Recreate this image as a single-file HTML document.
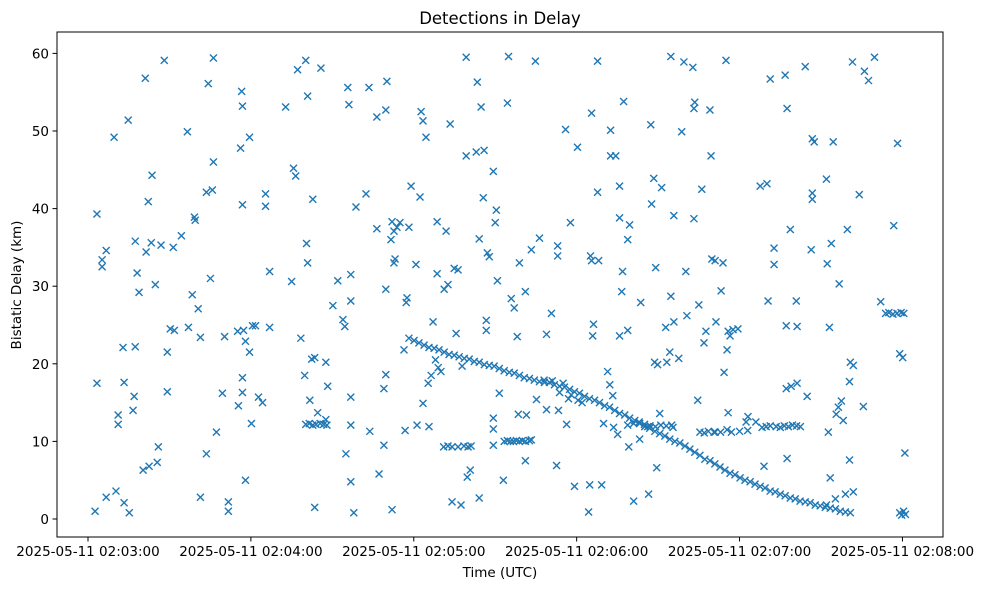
<!DOCTYPE html>
<html><head><meta charset="utf-8"><style>
body{margin:0;background:#fff;}
svg{display:block;font-family:"DejaVu Sans","Liberation Sans",sans-serif;}
</style></head><body>
<svg id="chart" width="984" height="590" viewBox="0 0 984 590">
<rect x="0" y="0" width="984" height="590" fill="#fff"/>
<text x="500" y="24" font-size="16.5" text-anchor="middle" fill="#000">Detections in Delay</text>
<text x="500" y="577" font-size="13.5" text-anchor="middle" fill="#000">Time (UTC)</text>
<text x="21" y="285" font-size="13.5" text-anchor="middle" fill="#000" transform="rotate(-90 21 285)">Bistatic Delay (km)</text>
<g id="marks"></g>
<g id="axes"></g>
</svg>
<script>
const xTickLabels=["2025-05-11 02:03:00","2025-05-11 02:04:00","2025-05-11 02:05:00","2025-05-11 02:06:00","2025-05-11 02:07:00","2025-05-11 02:08:00"];
const xTickSeconds=[0,60,120,180,240,300];
const yTicks=[0,10,20,30,40,50,60];
// seconds after 02:03:00
const times=[2.6,3.3,3.3,5.2,5.2,6.7,6.7,9.6,10.3,11.1,11.1,12.9,13.3,13.3,14.8,15.2,16.6,17,17.4,17.4,18.1,18.8,20.3,21.1,21.4,22.2,22.5,23.3,23.6,24.8,25.5,25.9,26.9,28.1,29.2,29.2,30.3,31.4,31.8,34.4,36.6,37.0,38.4,39.2,39.5,40.6,41.4,41.4,43.6,43.6,44.3,45.1,45.8,46.2,46.2,47.3,49.5,50.3,51.7,51.7,55.1,56.2,56.6,56.9,56.9,56.9,56.9,55.4,57.3,58.0,58.0,59.5,59.5,60.2,60.6,61.7,62.8,64.3,65.4,65.4,66.9,66.9,72.8,75,75.7,76.5,77.2,78.4,79.8,80.2,80.5,80.9,80.9,81.7,82.4,83.5,82.8,83.5,84.6,85.8,87.6,87.6,88.3,90.2,92,93.9,94.6,95,95.7,96.1,96.8,96.8,96.8,96.8,97.9,98.7,96.8,102.4,103.5,103.8,106.4,106.4,107.2,109,109,109.7,110.1,109.7,109.7,111.6,112,112,112.7,112.7,113.1,113.8,114.9,116.4,116.8,117.2,117.5,118.2,119,120.8,121.2,122.3,122.7,123.4,123.4,124.5,125.3,125.6,126.4,127.1,128.6,128.6,131.2,131.9,132.6,133.4,134.1,134.9,135.6,136.3,137.4,137.8,139.3,139.3,139.7,140.8,143,144.1,143.4,144.1,144.8,145.6,145.9,146.7,146.7,147.1,147.8,149.3,149.3,149.3,149.3,150,150.4,150.8,151.5,153,154.5,154.9,155.9,157,158.1,158.5,158.9,161.1,161.1,161.5,163.3,164.8,165.2,166.3,168.9,168.9,170.7,172.6,173,173,173.3,173.7,175.9,176.3,177.7,179.2,180.3,184.4,184.8,185.1,185.5,185.5,185.9,186.2,187.7,187.7,188.1,189.2,189.9,191.4,192.2,192.5,192.5,193.3,193.6,194.4,195.1,195.8,195.8,196.6,195.8,196.9,197.3,198.8,198.8,199.2,199.5,201,203.2,203.6,206.2,206.5,207.3,207.6,208.4,208.7,209.1,209.5,210.6,209.8,211.3,212.8,213.2,214.3,214.7,214.7,215,215.8,215.8,217.6,218.7,219.5,220.2,220.6,222.8,223.2,223.2,223.5,224.6,225,226.1,226.9,227.6,229.1,229.5,229.8,231,230.6,231.3,233.2,233.9,234.3,235,235.4,235.8,235.8,236.5,237.6,239.4,242.4,243.1,246,247.6,249,250.1,250.5,251.3,252.7,252.7,256.8,257.2,257.2,257.5,257.5,258.7,259,260.9,261.2,261.2,264.2,264.9,266.4,266.8,266.8,266.8,267.5,272,272,272.3,272.7,273.1,273.4,273.8,274.5,275.3,275.6,276.4,276.7,277.5,278.2,279,279.7,280.5,280.5,280.8,281.6,281.9,281.9,284.1,285.6,286,287.5,289.7,292,296.8,298.2,299,300.1,300.9,299,299.7,300.4,301.1,
293.8,295,296.5,298,299.5,300.5,
80.2,81.5,82.8,84,85.5,86.8,88,
131,132.6,134.1,136.3,138.5,140,141.1,
153.3,154.5,155.6,156.7,157.8,158.9,160,161.1,162.6,163.3,
225.4,227,228.5,231,233,235.4,237,240,243,
248.3,249.8,251.3,253.5,255,256.5,258,259.5,261,262.4,
198.8,201,203,205,207,209,211,213,215.5,
118.2,120.1,121.9,123.8,125.6,127.5,129.3,131.2,133,134.9,136.7,138.6,140.4,142.3,144.1,146,147.8,149.6,151.5,153.3,155.2,157,158.9,160.7,162.6,164.4,166.3,168.1,170,171.8,173.7,175.5,177.4,179.2,181,182.9,184.7,186.6,188.4,190.3,192.1,194,195.8,197.7,199.5,201.4,203.2,205.1,206.9,208.8,210.6,212.5,214.3,216.2,218,219.9,221.7,223.5,225.4,227.2,229.1,230.9,232.8,234.6,236.5,238.3,240.2,242,243.9,245.7,247.6,249.4,251.3,253.1,255,256.8,258.7,260.5,262.3,264.2,266,267.9,269.7,271.6,273.4,275.3,277.1,279,280.8,
168,171,175,178,180.5,182,177,128,129,130];
const delays=[1.0,39.3,17.5,33.4,32.5,34.6,2.8,49.2,3.6,13.4,12.2,22.1,17.6,2.1,51.4,0.8,14.0,15.8,22.2,35.8,31.7,29.2,6.3,56.8,34.4,40.9,6.8,35.6,44.3,30.2,7.3,9.3,35.3,59.1,16.4,21.5,24.5,35.0,24.3,36.5,49.9,24.7,28.9,38.9,38.5,27.1,23.4,2.8,8.4,42.1,56.1,31.0,42.4,46.0,59.4,11.2,16.2,23.5,2.2,1.0,24.2,47.8,55.1,53.2,40.5,18.2,16.3,14.6,24.3,22.9,5.0,49.2,21.5,12.3,24.9,24.9,15.7,15.0,41.9,40.3,31.9,24.7,53.1,30.6,45.2,44.2,57.9,23.3,18.5,59.1,35.5,54.5,33.0,15.3,20.6,1.5,41.2,20.8,13.7,58.1,12.8,20.2,17.1,27.5,30.7,25.7,24.8,8.4,55.6,53.4,31.5,28.1,15.7,4.8,0.8,40.2,12.1,41.9,55.6,11.3,51.8,37.4,5.8,16.8,9.5,52.7,56.4,18.6,29.6,36.0,38.3,1.2,37.1,33.0,33.5,37.6,38.2,21.8,11.4,27.9,28.5,37.6,42.9,32.8,12.1,41.5,52.5,51.3,14.9,49.2,17.5,11.9,18.5,25.4,38.3,31.6,29.6,37.1,30.2,50.9,2.2,32.3,23.9,32.1,1.8,19.7,59.5,46.8,5.4,6.3,47.3,2.7,56.3,36.1,53.1,41.4,47.5,25.6,24.3,34.3,33.8,11.6,13,9.5,44.8,38.2,39.8,30.7,16.2,5.0,53.6,59.6,28.4,27.2,23.5,13.5,33.0,7.5,29.3,13.4,34.7,59.0,15.4,36.2,23.8,14.1,26.5,6.9,33.9,35.2,14,16.3,50.2,12.2,38.2,4.2,47.9,0.9,4.4,33.9,33.3,52.3,23.6,25.1,42.1,59.0,33.3,4.4,12.3,19.0,17.3,46.8,50.1,15.9,11.8,46.8,10.9,42.9,23.6,29.3,38.8,31.9,53.8,36.0,24.3,9.3,37.9,2.3,10.3,27.9,11.9,3.2,50.8,40.6,43.9,20.2,32.4,6.6,13.6,19.9,42.7,24.7,20.2,21.5,28.7,59.6,12.1,39.1,25.4,20.7,49.9,58.9,31.9,26.2,58.2,38.7,52.9,53.7,15.3,27.6,42.5,22.7,24.2,52.7,46.8,33.5,33.3,11.2,25.4,29.4,33.0,18.9,59.1,21.8,24.2,13.7,23.6,24.4,24.5,12.5,13.2,12.5,42.9,6.8,43.2,28.1,56.7,34.9,32.8,57.2,24.9,16.8,52.9,7.8,37.3,17.1,28.1,17.5,24.8,58.3,15.8,34.7,42.0,41.2,49.0,48.6,1.8,43.8,32.9,11.2,24.7,5.3,35.5,48.6,2.6,13.5,14.4,30.3,15.2,12.7,3.2,37.3,7.6,17.7,20.2,58.9,3.5,19.8,41.8,14.5,57.7,56.5,59.5,28.0,37.8,48.4,21.3,20.8,8.5,0.8,0.5,1.0,0.6,
26.5,26.6,26.4,26.5,26.6,26.5,
12.2,12.3,12.1,12.2,12.3,12.2,12.1,
9.3,9.4,9.3,9.3,9.4,9.3,9.4,
10.0,10.1,10.0,10.0,10.1,10.0,10.1,10.0,10.1,10.2,
11.2,11.1,11.3,11.2,11.2,11.5,11.2,11.3,11.4,
11.8,11.9,12.0,11.9,11.8,12.0,11.9,12.1,12.0,11.9,
12.1,12.3,12.5,12.2,12.0,11.9,12.1,12.0,11.8,
23.3,23.0,22.7,22.4,22.1,22.0,21.8,21.5,21.2,21.1,20.9,20.7,20.6,20.3,20.2,19.9,19.8,19.7,19.4,19.1,18.9,18.8,18.5,18.2,18.1,17.9,17.7,17.6,17.6,17.3,17.1,17.0,16.7,16.4,16.2,15.8,15.5,15.3,15.0,14.6,14.4,14.0,13.6,13.4,13.0,12.7,12.3,11.9,11.7,11.3,11.0,10.7,10.3,10.0,9.8,9.4,9.0,8.6,8.2,7.7,7.5,7.1,6.7,6.3,5.9,5.7,5.3,5.0,4.8,4.5,4.2,4.0,3.6,3.5,3.2,3.0,2.7,2.6,2.3,2.2,2.1,1.8,1.7,1.5,1.4,1.3,1.0,0.9,0.8,
17.9,17.8,17.5,16.0,15.3,15.0,15.5,20.5,19.5,19.0];

const NS="http://www.w3.org/2000/svg";
const L=57,R=943,T=32,B=537;
function xScale(s){return 88+s*2.7148;}
function yScale(d){return 519-d*7.76;}
const marks=document.getElementById('marks');
const n=Math.min(times.length,delays.length);
for(let i=0;i<n;i++){
  const cx=xScale(times[i]),cy=yScale(delays[i]);
  const p=document.createElementNS(NS,'path');
  p.setAttribute('d',`M${cx-3.5},${cy-3.5}L${cx+3.5},${cy+3.5}M${cx-3.5},${cy+3.5}L${cx+3.5},${cy-3.5}`);
  p.setAttribute('stroke','#1f77b4');
  p.setAttribute('stroke-width','1.4');
  p.setAttribute('fill','none');
  
  
  marks.appendChild(p);
}
const axes=document.getElementById('axes');
const frame=document.createElementNS(NS,'rect');
frame.setAttribute('x',L);frame.setAttribute('y',T);frame.setAttribute('width',R-L);frame.setAttribute('height',B-T);
frame.setAttribute('fill','none');frame.setAttribute('stroke','#000');frame.setAttribute('stroke-width','1');


axes.appendChild(frame);
xTickSeconds.forEach((s,i)=>{
  const x=xScale(s);
  const t=document.createElementNS(NS,'line');
  t.setAttribute('x1',x);t.setAttribute('x2',x);t.setAttribute('y1',B);t.setAttribute('y2',B+4.5);t.setAttribute('stroke','#000');
  
  
  axes.appendChild(t);
  const tx=document.createElementNS(NS,'text');
  tx.setAttribute('x',x);tx.setAttribute('y',B+19);tx.setAttribute('font-size','13.5');tx.setAttribute('text-anchor','middle');
  tx.textContent=xTickLabels[i];
  
  
  axes.appendChild(tx);
});
yTicks.forEach(v=>{
  const y=yScale(v);
  const t=document.createElementNS(NS,'line');
  t.setAttribute('x1',L-4.5);t.setAttribute('x2',L);t.setAttribute('y1',y);t.setAttribute('y2',y);t.setAttribute('stroke','#000');
  
  
  axes.appendChild(t);
  const tx=document.createElementNS(NS,'text');
  tx.setAttribute('x',L-8);tx.setAttribute('y',y+5);tx.setAttribute('font-size','13.5');tx.setAttribute('text-anchor','end');
  tx.textContent=v;
  
  
  axes.appendChild(tx);
});
</script>
</body></html>
